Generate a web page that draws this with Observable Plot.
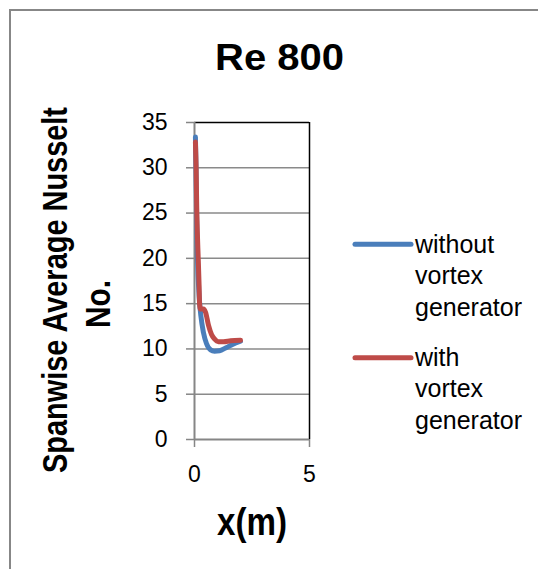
<!DOCTYPE html>
<html>
<head>
<meta charset="utf-8">
<script src="https://cdn.jsdelivr.net/npm/d3@7"></script>
<script src="https://cdn.jsdelivr.net/npm/@observablehq/plot@0.6"></script>
<style>
  html, body { margin: 0; padding: 0; background: #fff; overflow: hidden; }
  #wrap { position: relative; width: 538px; height: 569px; overflow: hidden; }
  #frame { position: absolute; left: 9px; top: 9px; width: 600px; height: 600px;
           border: 2px solid #878787; box-sizing: border-box; pointer-events: none; }
  #chart { position: absolute; left: 0; top: 0; }
</style>
</head>
<body>
<div id="wrap">
  <div id="chart"></div>
  <div id="frame"></div>
</div>
<script>
// Spanwise average Nusselt number along the channel, Re = 800
const seriesNames = ["without vortex generator", "with vortex generator"];
const seriesColors = ["#4A7EBB", "#BE4B48"];

const xWithout  = [0.04, 0.065, 0.09, 0.13, 0.20, 0.28, 0.39, 0.52, 0.70, 0.87, 1.09, 1.35, 1.65, 2.00];
const nuWithout = [33.4, 30.0, 25.0, 20.0, 15.9, 13.6, 11.8, 10.6, 9.9, 9.75, 9.8, 10.1, 10.5, 10.85];

const xWith  = [0.04, 0.07, 0.10, 0.12, 0.16, 0.20, 0.22, 0.26, 0.39, 0.48, 0.61, 0.74, 0.87, 1.04, 1.26, 1.57, 2.00];
const nuWith = [32.85, 30.0, 25.1, 23.1, 20.1, 17.0, 15.0, 14.4, 14.4, 14.05, 12.6, 11.6, 11.1, 10.8, 10.8, 10.9, 10.95];

const yTicks = [0, 5, 10, 15, 20, 25, 30, 35];
const xTicks = [0, 5];
const gridTicks = [5, 10, 15, 20, 25, 30];

const rows = [
  ...xWithout.map((x, i) => ({x, nu: nuWithout[i], series: seriesNames[0]})),
  ...xWith.map((x, i) => ({x, nu: nuWith[i], series: seriesNames[1]}))
];

const W = 538, H = 569;
const axisGray = "#868686";

const chart = Plot.plot({
  width: W,
  height: H,
  marginLeft: 194,
  marginRight: W - 309,
  marginTop: 122,
  marginBottom: H - 439,
  style: "background: none; font-family: 'Liberation Sans', Arial, sans-serif; font-size: 23px; overflow: visible;",
  x: {domain: [0, 5], ticks: xTicks, tickFormat: d3.format("d")},
  y: {domain: [0, 35], ticks: yTicks, tickFormat: d3.format("d")},
  color: {domain: seriesNames, range: seriesColors},
  marks: [
    Plot.gridY(gridTicks, {stroke: "#8a8a8a", strokeOpacity: 1, strokeWidth: 1.5}),
    Plot.ruleY([35], {stroke: "#000", strokeWidth: 1.5}),
    Plot.ruleX([5], {stroke: "#000", strokeWidth: 1.5}),
    Plot.axisY({ticks: yTicks, tickFormat: d3.format("d"), tickSize: 8, tickPadding: 19, stroke: axisGray, strokeWidth: 1.5, label: null, fill: "#000"}),
    Plot.axisX({ticks: xTicks, tickFormat: d3.format("d"), tickSize: 8, tickPadding: 18, stroke: axisGray, strokeWidth: 1.5, label: null, fill: "#000"}),
    Plot.ruleX([0], {stroke: axisGray, strokeWidth: 2}),
    Plot.ruleY([0], {stroke: axisGray, strokeWidth: 2}),
    Plot.line(rows.filter(d => d.series === seriesNames[0]), {x: "x", y: "nu", stroke: "series", strokeWidth: 5, curve: "monotone-x", strokeLinecap: "round", strokeLinejoin: "round"}),
    Plot.line(rows.filter(d => d.series === seriesNames[1]), {x: "x", y: "nu", stroke: "series", strokeWidth: 5, curve: "monotone-x", strokeLinecap: "round", strokeLinejoin: "round"})
  ]
});
document.getElementById("chart").appendChild(chart);

// Titles and legend
const svg = d3.select(chart);
const g = svg.append("g").attr("fill", "#000").attr("text-anchor", "start");
const narrow = "'Liberation Sans Narrow', 'Arial Narrow', 'Liberation Sans', Arial, sans-serif";
const regular = "'Liberation Sans', Arial, sans-serif";

g.append("text").text("Re 800")
  .attr("x", 215).attr("y", 69.5)
  .attr("text-anchor", "start")
  .attr("font-family", regular).attr("font-weight", "bold").attr("font-size", 37.5)
  .attr("textLength", 129).attr("lengthAdjust", "spacingAndGlyphs");

g.append("text").text("Spanwise Average Nusselt")
  .attr("transform", "translate(67,290) rotate(-90)")
  .attr("text-anchor", "middle")
  .attr("font-family", narrow).attr("font-weight", "bold").attr("font-size", 35)
  .attr("textLength", 366).attr("lengthAdjust", "spacingAndGlyphs");

g.append("text").text("No.")
  .attr("transform", "translate(110,304) rotate(-90)")
  .attr("text-anchor", "middle")
  .attr("font-family", narrow).attr("font-weight", "bold").attr("font-size", 35)
  .attr("textLength", 48).attr("lengthAdjust", "spacingAndGlyphs");

g.append("text").text("x(m)")
  .attr("x", 217).attr("y", 535)
  .attr("text-anchor", "start")
  .attr("font-family", narrow).attr("font-weight", "bold").attr("font-size", 38)
  .attr("textLength", 70).attr("lengthAdjust", "spacingAndGlyphs");

const legendItems = [
  {lineY: 244.3, lines: ["without", "vortex", "generator"], base: 252.7},
  {lineY: 357.7, lines: ["with", "vortex", "generator"], base: 365.7}
];
legendItems.forEach((item, i) => {
  g.append("line")
    .attr("x1", 355).attr("x2", 411).attr("y1", item.lineY).attr("y2", item.lineY)
    .attr("stroke", seriesColors[i]).attr("stroke-width", 5).attr("stroke-linecap", "round");
  item.lines.forEach((t, j) => {
    g.append("text").text(t)
      .attr("x", 415).attr("y", item.base + j * 31.5)
      .attr("text-anchor", "start")
      .attr("font-family", regular).attr("font-size", 25);
  });
});
</script>
</body>
</html>
